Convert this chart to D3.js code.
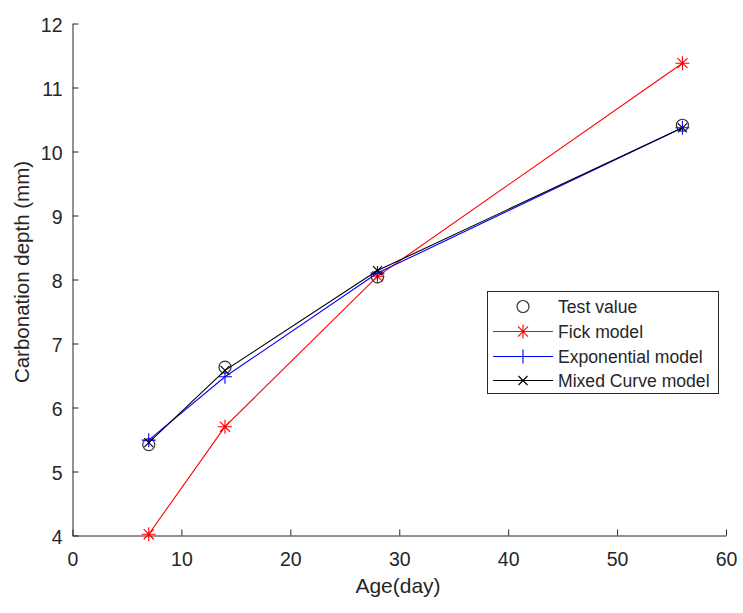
<!DOCTYPE html>
<html><head><meta charset="utf-8">
<script src="https://cdn.jsdelivr.net/npm/d3@7"></script>
<style>body{margin:0;background:#fff}svg{display:block}text{font-family:"Liberation Sans",Arial,sans-serif;fill:#262626}</style>
</head><body><svg id="c" width="743" height="613"></svg>
<script>
const ages = [7, 14, 28, 56];
const testValue = [5.42, 6.63, 8.04, 10.41];
const fickModel = [4.02, 5.70, 8.05, 11.38];
const expModel = [5.49, 6.48, 8.10, 10.37];
const mixedModel = [5.45, 6.58, 8.14, 10.37];
const xTicks = [0, 10, 20, 30, 40, 50, 60];
const yTicks = [4, 5, 6, 7, 8, 9, 10, 11, 12];
const seriesNames = ["Test value", "Fick model", "Exponential model", "Mixed Curve model"];

const svg = d3.select("#c");
const x = d3.scaleLinear().domain([0, 60]).range([72.5, 726]);
const y = d3.scaleLinear().domain([4, 12]).range([535.5, 23.5]);
const axisColor = "#262626";

// axes
const gx = svg.append("g").attr("transform", `translate(0,${y(4)})`)
  .call(d3.axisBottom(x).tickValues(xTicks).tickSizeInner(-6).tickSizeOuter(0).tickPadding(23.5));
const gy = svg.append("g").attr("transform", `translate(${x(0)},0)`)
  .call(d3.axisLeft(y).tickValues(yTicks).tickSizeInner(-6).tickSizeOuter(0).tickPadding(10));
[gx, gy].forEach(g => {
  g.select(".domain").attr("stroke", axisColor).attr("stroke-width", 1);
  g.selectAll(".tick line").attr("stroke", axisColor);
  g.selectAll(".tick text").attr("font-size", 19.5).attr("fill", axisColor)
    .attr("font-family", '"Liberation Sans",Arial,sans-serif');
});
gx.selectAll(".tick text").attr("dy", "0.35em");
gy.selectAll(".tick text").attr("dy", "0.42em");

svg.append("text").attr("x", 398).attr("y", 593).attr("text-anchor", "middle")
  .attr("font-size", 21).text("Age(day)");
svg.append("text").attr("transform", "translate(29,272) rotate(-90)").attr("text-anchor", "middle")
  .attr("font-size", 20.5).text("Carbonation depth (mm)");

// marker shapes
function marker(g, type, cx, cy, color) {
  if (type === "o") {
    g.append("circle").attr("cx", cx).attr("cy", cy).attr("r", 6)
      .attr("fill", "none").attr("stroke", "#333").attr("stroke-width", 1.2);
  } else if (type === "*") {
    const r = 7, d = r * 0.72;
    const p = `M${cx - r},${cy}L${cx + r},${cy}M${cx},${cy - r}L${cx},${cy + r}M${cx - d},${cy - d}L${cx + d},${cy + d}M${cx - d},${cy + d}L${cx + d},${cy - d}`;
    g.append("path").attr("d", p).attr("stroke", color).attr("stroke-width", 1.1).attr("fill", "none");
  } else if (type === "+") {
    const r = 7;
    g.append("path").attr("d", `M${cx - r},${cy}L${cx + r},${cy}M${cx},${cy - r}L${cx},${cy + r}`)
      .attr("stroke", color).attr("stroke-width", 1.1).attr("fill", "none");
  } else if (type === "x") {
    const r = 4.5;
    g.append("path").attr("d", `M${cx - r},${cy - r}L${cx + r},${cy + r}M${cx - r},${cy + r}L${cx + r},${cy - r}`)
      .attr("stroke", color).attr("stroke-width", 1.1).attr("fill", "none");
  }
}

const series = [
  {name: seriesNames[0], vals: testValue, color: "#333", m: "o", line: false},
  {name: seriesNames[1], vals: fickModel, color: "#ff0000", m: "*", line: true},
  {name: seriesNames[2], vals: expModel, color: "#0000ff", m: "+", line: true},
  {name: seriesNames[3], vals: mixedModel, color: "#000000", m: "x", line: true}
];
const line = d3.line().x(d => x(d[0])).y(d => y(d[1]));
series.forEach(s => {
  const g = svg.append("g");
  const pts = ages.map((a, i) => [a, s.vals[i]]);
  if (s.line) g.append("path").attr("d", line(pts)).attr("fill", "none").attr("stroke", s.color).attr("stroke-width", 1.1);
  pts.forEach(p => marker(g, s.m, x(p[0]), y(p[1]), s.color));
});

// legend
const lg = svg.append("g");
lg.append("rect").attr("x", 487.5).attr("y", 291.5).attr("width", 231).attr("height", 102)
  .attr("fill", "#fff").attr("stroke", "#262626").attr("stroke-width", 1);
const rowY = [306.5, 331.5, 356.5, 380.5];
series.forEach((s, i) => {
  const yy = rowY[i];
  if (s.line) lg.append("line").attr("x1", 493).attr("x2", 553).attr("y1", yy).attr("y2", yy)
    .attr("stroke", s.color).attr("stroke-width", 1.1);
  marker(lg, s.m, 523, yy, s.color);
  lg.append("text").attr("x", 558).attr("y", yy).attr("dy", "0.35em").attr("font-size", 17.6).text(s.name);
});
</script></body></html>
